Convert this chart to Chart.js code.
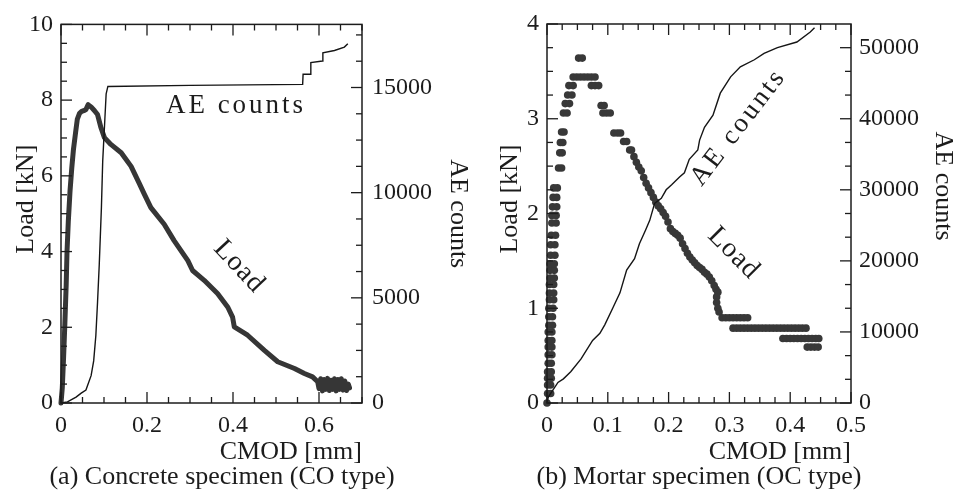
<!DOCTYPE html>
<html>
<head>
<meta charset="utf-8">
<script src="https://cdn.jsdelivr.net/npm/chart.js@4.4.1/dist/chart.umd.min.js"></script>
<style>
html, body { margin: 0; padding: 0; background: #fff; overflow: hidden; width: 958px; height: 493px; }
canvas { position: absolute; top: 0; }
#ca { left: -30px; }
#cb { left: 439px; }
</style>
</head>
<body>
<canvas id="ca" width="504" height="493"></canvas>
<canvas id="cb" width="520" height="493"></canvas>
<script>
// ---------- Panel (a): Concrete specimen (CO type) ----------
const cmodA_load = [
  0, 0.003, 0.006, 0.009, 0.012, 0.014, 0.017, 0.021, 0.025, 0.029,
  0.034, 0.038, 0.043, 0.048, 0.053, 0.058, 0.063, 0.070, 0.078, 0.085,
  0.093, 0.101, 0.116, 0.140, 0.163, 0.182, 0.194, 0.209, 0.240, 0.263,
  0.295, 0.306, 0.333, 0.364, 0.388, 0.399, 0.403, 0.434, 0.473, 0.504,
  0.543, 0.566, 0.585, 0.597, 0.600, 0.604, 0.608, 0.612, 0.616, 0.620,
  0.624, 0.628, 0.632, 0.636, 0.640, 0.644, 0.648, 0.652, 0.656, 0.660,
  0.664, 0.668, 0.671
];
const loadA = [
  0, 0.4, 1.2, 2.1, 3.1, 4.0, 4.8, 5.6, 6.2, 6.7,
  7.15, 7.5, 7.65, 7.7, 7.72, 7.75, 7.88, 7.82, 7.72, 7.62,
  7.27, 7.01, 6.83, 6.61, 6.25, 5.8, 5.51, 5.16, 4.72, 4.29,
  3.76, 3.5, 3.24, 2.89, 2.53, 2.27, 2.01, 1.79, 1.39, 1.09,
  0.91, 0.78, 0.69, 0.56, 0.38, 0.64, 0.32, 0.62, 0.36, 0.65,
  0.33, 0.60, 0.36, 0.64, 0.32, 0.62, 0.36, 0.64, 0.34, 0.58,
  0.33, 0.50, 0.40
];
const cmodA_ae = [
  0, 0.015, 0.035, 0.047, 0.058, 0.070, 0.076, 0.081, 0.085, 0.089,
  0.094, 0.097, 0.102, 0.105, 0.109, 0.300, 0.562, 0.563, 0.580, 0.581,
  0.608, 0.609, 0.636, 0.659, 0.667
];
const aeA = [
  0, 50, 280, 470, 620, 1300, 2000, 3200, 4800, 6600,
  9300, 11500, 13500, 14700, 15050, 15100, 15150, 15630, 15630, 16180,
  16260, 16650, 16760, 16920, 17080
];
const xTicksA = [0, 0.2, 0.4, 0.6];
const loadTicksA = [0, 2, 4, 6, 8, 10];
const aeTicksA = [0, 5000, 10000, 15000];

// ---------- Panel (b): Mortar specimen (OC type) ----------
const cmodB_load = [
  0,
  0.001, 0.006,  0.001, 0.006,  0.001, 0.007,  0.001, 0.007,  0.002, 0.007,
  0.002, 0.008,  0.002, 0.008,  0.002, 0.008,  0.002, 0.008,  0.003, 0.009,
  0.003, 0.009,  0.003, 0.010,  0.004, 0.011,  0.004, 0.011,  0.004, 0.011,
  0.005, 0.012,  0.005, 0.012,  0.005, 0.012,  0.006, 0.013,  0.006, 0.013,
  0.007, 0.014,  0.008, 0.015,  0.008, 0.015,  0.009, 0.016,  0.010, 0.016,
  0.011, 0.017,
  0.019, 0.024,  0.021, 0.025,  0.022, 0.026,  0.024, 0.028,
  0.027, 0.033,  0.030, 0.037,  0.034, 0.041,  0.036, 0.043,
  0.043, 0.049, 0.055, 0.061, 0.067, 0.073, 0.079,
  0.052, 0.058,
  0.073, 0.079, 0.085,
  0.089, 0.094,
  0.092, 0.098, 0.104,
  0.110, 0.116, 0.121,
  0.126, 0.131,
  0.136, 0.139,
  0.143, 0.147, 0.151, 0.155, 0.159, 0.163, 0.167, 0.171, 0.175, 0.179,
  0.183, 0.187, 0.191, 0.195, 0.199, 0.203, 0.207, 0.211, 0.215, 0.219,
  0.223, 0.227, 0.231, 0.235, 0.239, 0.243, 0.247, 0.251, 0.255, 0.259,
  0.263, 0.267, 0.271, 0.275, 0.278, 0.281, 0.279, 0.279, 0.281, 0.283,
  0.288, 0.294, 0.300, 0.306, 0.312, 0.318, 0.324, 0.330,
  0.306, 0.312, 0.318, 0.324, 0.330, 0.336, 0.342, 0.348, 0.354, 0.360,
  0.366, 0.372, 0.378, 0.384, 0.390, 0.396, 0.402, 0.408, 0.414, 0.420, 0.426,
  0.388, 0.394, 0.400, 0.406, 0.412, 0.418, 0.424, 0.430, 0.436, 0.442, 0.447,
  0.428, 0.434, 0.440, 0.446
];
const loadB = [
  0,
  0.10, 0.10,  0.19, 0.19,  0.26, 0.26,  0.33, 0.33,  0.42, 0.42,
  0.51, 0.51,  0.59, 0.59,  0.66, 0.66,  0.75, 0.75,  0.82, 0.82,
  0.91, 0.91,  1.00, 1.00,  1.09, 1.09,  1.16, 1.16,  1.25, 1.25,
  1.32, 1.32,  1.40, 1.40,  1.47, 1.47,  1.56, 1.56,  1.67, 1.67,
  1.77, 1.77,  1.90, 1.90,  1.98, 1.98,  2.07, 2.07,  2.17, 2.17,
  2.27, 2.27,
  2.48, 2.48,  2.64, 2.64,  2.75, 2.75,  2.86, 2.86,
  3.06, 3.06,  3.16, 3.16,  3.25, 3.25,  3.35, 3.35,
  3.44, 3.44, 3.44, 3.44, 3.44, 3.44, 3.44,
  3.64, 3.64,
  3.35, 3.35, 3.35,
  3.14, 3.14,
  3.06, 3.06, 3.06,
  2.85, 2.85, 2.85,
  2.76, 2.76,
  2.67, 2.67,
  2.60, 2.54, 2.49, 2.45, 2.38, 2.32, 2.27, 2.22, 2.17, 2.12,
  2.08, 2.05, 2.01, 1.97, 1.91, 1.84, 1.81, 1.79, 1.77, 1.74,
  1.68, 1.63, 1.58, 1.54, 1.51, 1.48, 1.45, 1.43, 1.41, 1.38,
  1.36, 1.33, 1.29, 1.24, 1.20, 1.17, 1.12, 1.06, 1.00, 0.96,
  0.90, 0.90, 0.90, 0.90, 0.90, 0.90, 0.90, 0.90,
  0.79, 0.79, 0.79, 0.79, 0.79, 0.79, 0.79, 0.79, 0.79, 0.79,
  0.79, 0.79, 0.79, 0.79, 0.79, 0.79, 0.79, 0.79, 0.79, 0.79, 0.79,
  0.68, 0.68, 0.68, 0.68, 0.68, 0.68, 0.68, 0.68, 0.68, 0.68, 0.68,
  0.59, 0.59, 0.59, 0.59
];
const cmodB_ae = [
  0, 0.002, 0.005, 0.018, 0.027, 0.039, 0.056, 0.075, 0.087, 0.095,
  0.109, 0.120, 0.131, 0.144, 0.152, 0.162, 0.169, 0.177, 0.188, 0.196,
  0.205, 0.218, 0.226, 0.234, 0.248, 0.251, 0.259, 0.273, 0.285, 0.302,
  0.318, 0.341, 0.357, 0.379, 0.411, 0.433, 0.440
];
const aeB = [
  0, 800, 1200, 2900, 3400, 4400, 6200, 8800, 9800, 11000,
  13500, 15500, 18700, 20300, 22400, 24300, 25700, 28100, 28800, 30000,
  30700, 31800, 32400, 34300, 35600, 37000, 38800, 40500, 43600, 45900,
  47300, 48300, 49200, 50000, 50800, 52200, 52800
];
const xTicksB = [0, 0.1, 0.2, 0.3, 0.4, 0.5];
const loadTicksB = [0, 1, 2, 3, 4];
const aeTicksB = [0, 10000, 20000, 30000, 40000, 50000];

// ---------- shared drawing helpers ----------
const SERIF = "'Liberation Serif', 'Times New Roman', Times, serif";
const INK = '#1c1c1c';
const fmt = v => String(Number(v.toFixed(3)));
const pts = (xs, ys) => xs.map((x, i) => ({ x: x, y: ys[i] }));
const fixedTicks = arr => (s => { s.ticks = arr.map(v => ({ value: v })); });

function rotText(ctx, text, x, y, deg, size, spacing) {
  ctx.save();
  ctx.translate(x, y);
  ctx.rotate(deg * Math.PI / 180);
  ctx.font = size + 'px ' + SERIF;
  if ('letterSpacing' in ctx) ctx.letterSpacing = (spacing || 0) + 'px';
  ctx.fillStyle = INK;
  ctx.textAlign = 'center';
  ctx.textBaseline = 'middle';
  ctx.fillText(text, 0, 0);
  ctx.restore();
}

// frame, inward tick marks and in-plot labels; settings captured in a closure
function makeFrame(spec) {
  return {
    id: 'frame',
    afterDatasetsDraw(chart) {
      const { ctx, chartArea: a, scales } = chart;
      ctx.save();
      ctx.strokeStyle = INK;
      ctx.lineWidth = 1.5;
      ctx.strokeRect(a.left, a.top, a.right - a.left, a.bottom - a.top);
      ctx.lineWidth = 1.3;
      spec.marks.forEach(m => {
        const sc = scales[m.scale];
        const n = Math.floor((m.max - m.min) / m.minor + 1e-6);
        for (let i = 0; i <= n; i++) {
          const v = m.min + i * m.minor;
          const r = v / m.major;
          const len = Math.abs(r - Math.round(r)) < 1e-6 ? 11 : 6;
          const p = sc.getPixelForValue(v);
          ctx.beginPath();
          m.sides.forEach(s => {
            if (s === 'bottom') { ctx.moveTo(p, a.bottom); ctx.lineTo(p, a.bottom - len); }
            if (s === 'top') { ctx.moveTo(p, a.top); ctx.lineTo(p, a.top + len); }
            if (s === 'left') { ctx.moveTo(a.left, p); ctx.lineTo(a.left + len, p); }
            if (s === 'right') { ctx.moveTo(a.right, p); ctx.lineTo(a.right - len, p); }
          });
          ctx.stroke();
        }
      });
      ctx.restore();
    },
    afterDraw(chart) {
      const { ctx, chartArea: a, scales } = chart;
      spec.texts.forEach(t => {
        let x, y;
        if (t.at) {
          x = scales.x.getPixelForValue(t.at[0]);
          y = scales.y.getPixelForValue(t.at[1]);
        } else {
          x = (t.edge === 'left' ? a.left : a.right) + t.dx;
          y = (a.top + a.bottom) / 2 + t.dy;
        }
        rotText(ctx, t.label, x, y, t.rot || 0, t.size || 26, t.spacing || 0);
      });
    }
  };
}

Chart.defaults.font.family = SERIF;
Chart.defaults.color = INK;

const tickFont = { family: SERIF, size: 24 };

function axis(extra) {
  return Object.assign({
    type: 'linear',
    grid: { display: false, drawTicks: false },
    border: { display: false }
  }, extra);
}

function makeChart(id, cfg) {
  return new Chart(document.getElementById(id), {
    type: 'scatter',
    data: { datasets: cfg.datasets },
    options: {
      responsive: false,
      animation: false,
      devicePixelRatio: 1,
      layout: { padding: { top: 24, bottom: 0, left: 0, right: 0 } },
      scales: cfg.scales,
      plugins: {
        legend: { display: false },
        tooltip: { enabled: false },
        title: {
          display: true, position: 'bottom', text: cfg.caption,
          font: { family: SERIF, size: 26, weight: 'normal' }, color: INK,
          padding: { top: -3, bottom: 0 }
        }
      }
    },
    plugins: [makeFrame(cfg.frame)]
  });
}

// ---------- chart (a) ----------
makeChart('ca', {
  caption: '(a) Concrete specimen (CO type)',
  datasets: [
    { label: 'AE counts', data: pts(cmodA_ae, aeA), yAxisID: 'y2', showLine: true,
      borderColor: '#151515', borderWidth: 1.4, pointRadius: 0, tension: 0 },
    { label: 'Load', data: pts(cmodA_load, loadA), yAxisID: 'y', showLine: true,
      borderColor: '#363636', borderWidth: 5, pointRadius: 0, tension: 0,
      borderJoinStyle: 'round', borderCapStyle: 'round', clip: 6 }
  ],
  scales: {
    x: axis({
      position: 'bottom', min: 0, max: 0.7,
      afterBuildTicks: fixedTicks(xTicksA),
      ticks: { font: tickFont, color: INK, padding: 8, autoSkip: false, maxRotation: 0, callback: v => fmt(v) },
      title: { display: true, text: 'CMOD [mm]', align: 'end', color: INK,
               font: { family: SERIF, size: 26, lineHeight: 1, weight: 'normal' }, padding: { top: 0, bottom: 0 } },
      afterFit: s => { s.height = 61.8; }
    }),
    y: axis({
      position: 'left', min: 0, max: 10,
      afterBuildTicks: fixedTicks(loadTicksA),
      ticks: { font: tickFont, color: INK, padding: 8, callback: v => fmt(v) },
      afterFit: s => { s.width = 91; }
    }),
    y2: axis({
      position: 'right', min: 0, max: 18000,
      afterBuildTicks: fixedTicks(aeTicksA),
      ticks: { font: tickFont, color: INK, padding: 10, callback: v => String(v) },
      title: { display: true, text: 'AE counts', color: INK,
               font: { family: SERIF, size: 26, weight: 'normal' }, padding: { top: 1, bottom: 0 } },
      afterFit: s => { s.width = 112; }
    })
  },
  frame: {
    marks: [
      { scale: 'x', min: 0, max: 0.7, minor: 0.05, major: 0.2, sides: ['bottom', 'top'] },
      { scale: 'y', min: 0, max: 10, minor: 0.5, major: 2, sides: ['left'] },
      { scale: 'y2', min: 0, max: 18000, minor: 1250, major: 5000, sides: ['right'] }
    ],
    texts: [
      { label: 'AE counts', at: [0.407, 7.84], rot: 0, size: 27, spacing: 3 },
      { label: 'Load', at: [0.414, 3.6], rot: 47, size: 28, spacing: 1 },
      { label: 'Load [kN]', edge: 'left', dx: -35, dy: -14.5, rot: -90, size: 26 }
    ]
  }
});

// ---------- chart (b) ----------
makeChart('cb', {
  caption: '(b) Mortar specimen (OC type)',
  datasets: [
    { label: 'AE counts', data: pts(cmodB_ae, aeB), yAxisID: 'y2', showLine: true,
      borderColor: '#151515', borderWidth: 1.4, pointRadius: 0, tension: 0 },
    { label: 'Load', data: pts(cmodB_load, loadB), yAxisID: 'y', showLine: false,
      pointRadius: 3.8, pointBackgroundColor: '#383838', pointBorderWidth: 0, clip: 10 }
  ],
  scales: {
    x: axis({
      position: 'bottom', min: 0, max: 0.5,
      afterBuildTicks: fixedTicks(xTicksB),
      ticks: { font: tickFont, color: INK, padding: 8, autoSkip: false, maxRotation: 0, callback: v => fmt(v) },
      title: { display: true, text: 'CMOD [mm]', align: 'end', color: INK,
               font: { family: SERIF, size: 26, lineHeight: 1, weight: 'normal' }, padding: { top: 0, bottom: 0 } },
      afterFit: s => { s.height = 61.8; }
    }),
    y: axis({
      position: 'left', min: 0, max: 4,
      afterBuildTicks: fixedTicks(loadTicksB),
      ticks: { font: tickFont, color: INK, padding: 8, callback: v => fmt(v) },
      afterFit: s => { s.width = 108; }
    }),
    y2: axis({
      position: 'right', min: 0, max: 53333,
      afterBuildTicks: fixedTicks(aeTicksB),
      ticks: { font: tickFont, color: INK, padding: 8, callback: v => String(v) },
      afterFit: s => { s.width = 108; }
    })
  },
  frame: {
    marks: [
      { scale: 'x', min: 0, max: 0.5, minor: 0.025, major: 0.1, sides: ['bottom', 'top'] },
      { scale: 'y', min: 0, max: 4, minor: 0.25, major: 1, sides: ['left'] },
      { scale: 'y2', min: 0, max: 53333, minor: 10000 / 3, major: 10000, sides: ['right'] }
    ],
    texts: [
      { label: 'AE counts', at: [0.315, 2.91], rot: -52.5, size: 27, spacing: 3 },
      { label: 'Load', at: [0.307, 1.58], rot: 45, size: 28, spacing: 1 },
      { label: 'Load [kN]', edge: 'left', dx: -37, dy: -14.5, rot: -90, size: 26 },
      { label: 'AE counts', edge: 'right', dx: 92, dy: -27.5, rot: 90, size: 26 }
    ]
  }
});
</script>
</body>
</html>
